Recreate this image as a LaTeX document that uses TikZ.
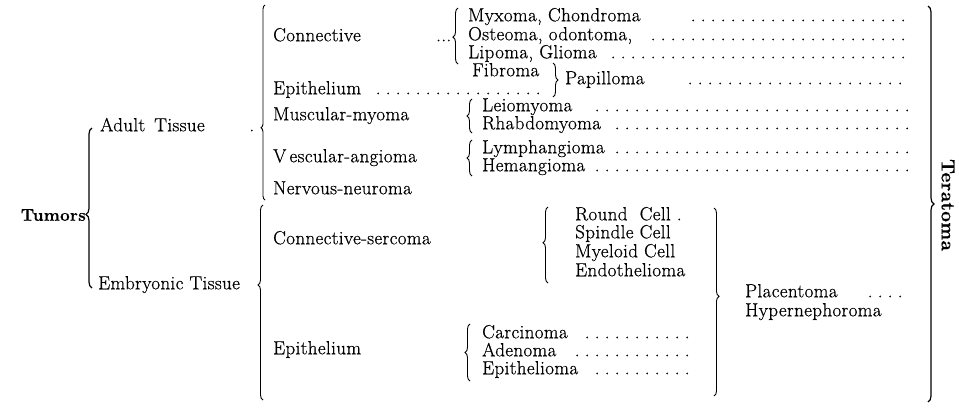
\documentclass[tikz,border=0pt]{standalone}
\usepackage{fontspec}
\setmainfont{Latin Modern Roman}[LetterSpace=2,FakeBold=0.6]
\usetikzlibrary{decorations.pathreplacing}
\newcommand\leaderdots{\leaders\hbox to 10pt{\hss.\hss}\hfill}
\newcommand\dotrow[2]{\hbox to #1pt{#2\leaderdots}}
\begin{document}
\begin{tikzpicture}[x=1pt,y=-1pt,
  every node/.style={font=\fontsize{19}{18}\selectfont,inner sep=0pt},
  txt/.style={anchor=west,text height=12pt,text depth=3.5pt},
  brc/.style={decorate,decoration={brace,amplitude=#1},line width=0.9pt},
  brc/.default=5pt]
  \useasboundingbox (0,0) rectangle (959,408);
  \node[anchor=east,font=\fontsize{17}{18}\selectfont\bfseries] (tum) at (86,215) {Tumors};
  \node[txt] (adult) at (100,127) {\hbox to 154pt{Adult\hspace{9pt}Tissue\hfill.}};
  \node[txt] (emb) at (98,285) {Embryonic Tissue};
  \draw[brc=6pt,decoration={aspect=0.46},line width=1.2pt] (92,288) -- (92,128);
  % adult tissue
  \draw[brc=4pt,decoration={aspect=0.37}] (265,200) -- (265,5);
  \node[txt] (conn) at (273,37) {\hbox to 178pt{Connective\hfill...}};
  \node[txt] (myx) at (468,17) {\dotrow{444}{Myxoma, Chondroma\qquad}};
  \node[txt] (ost) at (468,36) {\dotrow{444}{Osteoma, odontoma,\ }};
  \node[txt] (lip) at (468,54) {\dotrow{444}{Lipoma, Glioma\ }};
  \draw[brc,decoration={aspect=0.48}] (458,64) -- (458,8);
  \node[txt] (fib) at (472,72) {Fibroma};
  \node[txt] (epi) at (273,90) {\dotrow{274}{Epithelium\ }};
  \draw[brc] (553,63) -- (553,97);
  \node[txt] (pap) at (565,80) {\dotrow{347}{Papilloma\qquad}};
  \node[txt] (mus) at (273,116) {Muscular-myoma};
  \node[txt] (leio) at (482,107) {\dotrow{430}{Leiomyoma\quad}};
  \node[txt] (rhab) at (482,125) {\dotrow{430}{Rhabdomyoma\ }};
  \draw[brc] (472,133) -- (472,99);
  \node[txt] (vasc) at (273,158) {V\,escular-angioma};
  \node[txt] (lym) at (482,149) {\dotrow{430}{Lymphangioma\ }};
  \node[txt] (hem) at (482,167) {\dotrow{430}{Hemangioma\ }};
  \draw[brc] (472,176) -- (472,140);
  \node[txt] (nerv) at (273,190) {Nervous-neuroma};
  % embryonic tissue
  \draw[brc,decoration={aspect=0.59}] (263,400) -- (263,205);
  \node[txt] (csarc) at (273,240) {Connective-sercoma};
  \node[txt] (round) at (575,216) {Round\ \ Cell\ .};
  \node[txt] (spin) at (575,234) {Spindle Cell};
  \node[txt] (myel) at (575,253) {Myeloid Cell};
  \node[txt] (endo) at (575,272) {Endothelioma};
  \draw[brc,decoration={aspect=0.53}] (548,283) -- (548,207);
  \node[txt] (epi2) at (273,350) {Epithelium};
  \node[txt] (carc) at (482,334) {\dotrow{218}{Carcinoma\ }};
  \node[txt] (aden) at (482,352) {\dotrow{218}{Adenoma\ }};
  \node[txt] (epil) at (482,370) {\dotrow{218}{Epithelioma\ }};
  \draw[brc] (470,381) -- (470,324);
  \draw[brc,decoration={aspect=0.47}] (714,208) -- (714,396);
  \node[txt] (plac) at (745,293) {\dotrow{162}{Placentoma\quad}};
  \node[txt] (hyp) at (745,312) {Hypernephoroma};
  % teratoma
  \draw[brc=6pt,decoration={aspect=0.5},line width=1.2pt] (928,6) -- (928,402);
  \node[rotate=-90,font=\fontsize{19}{18}\selectfont\bfseries] (ter) at (948,205) {Teratoma};
\end{tikzpicture}
\end{document}
